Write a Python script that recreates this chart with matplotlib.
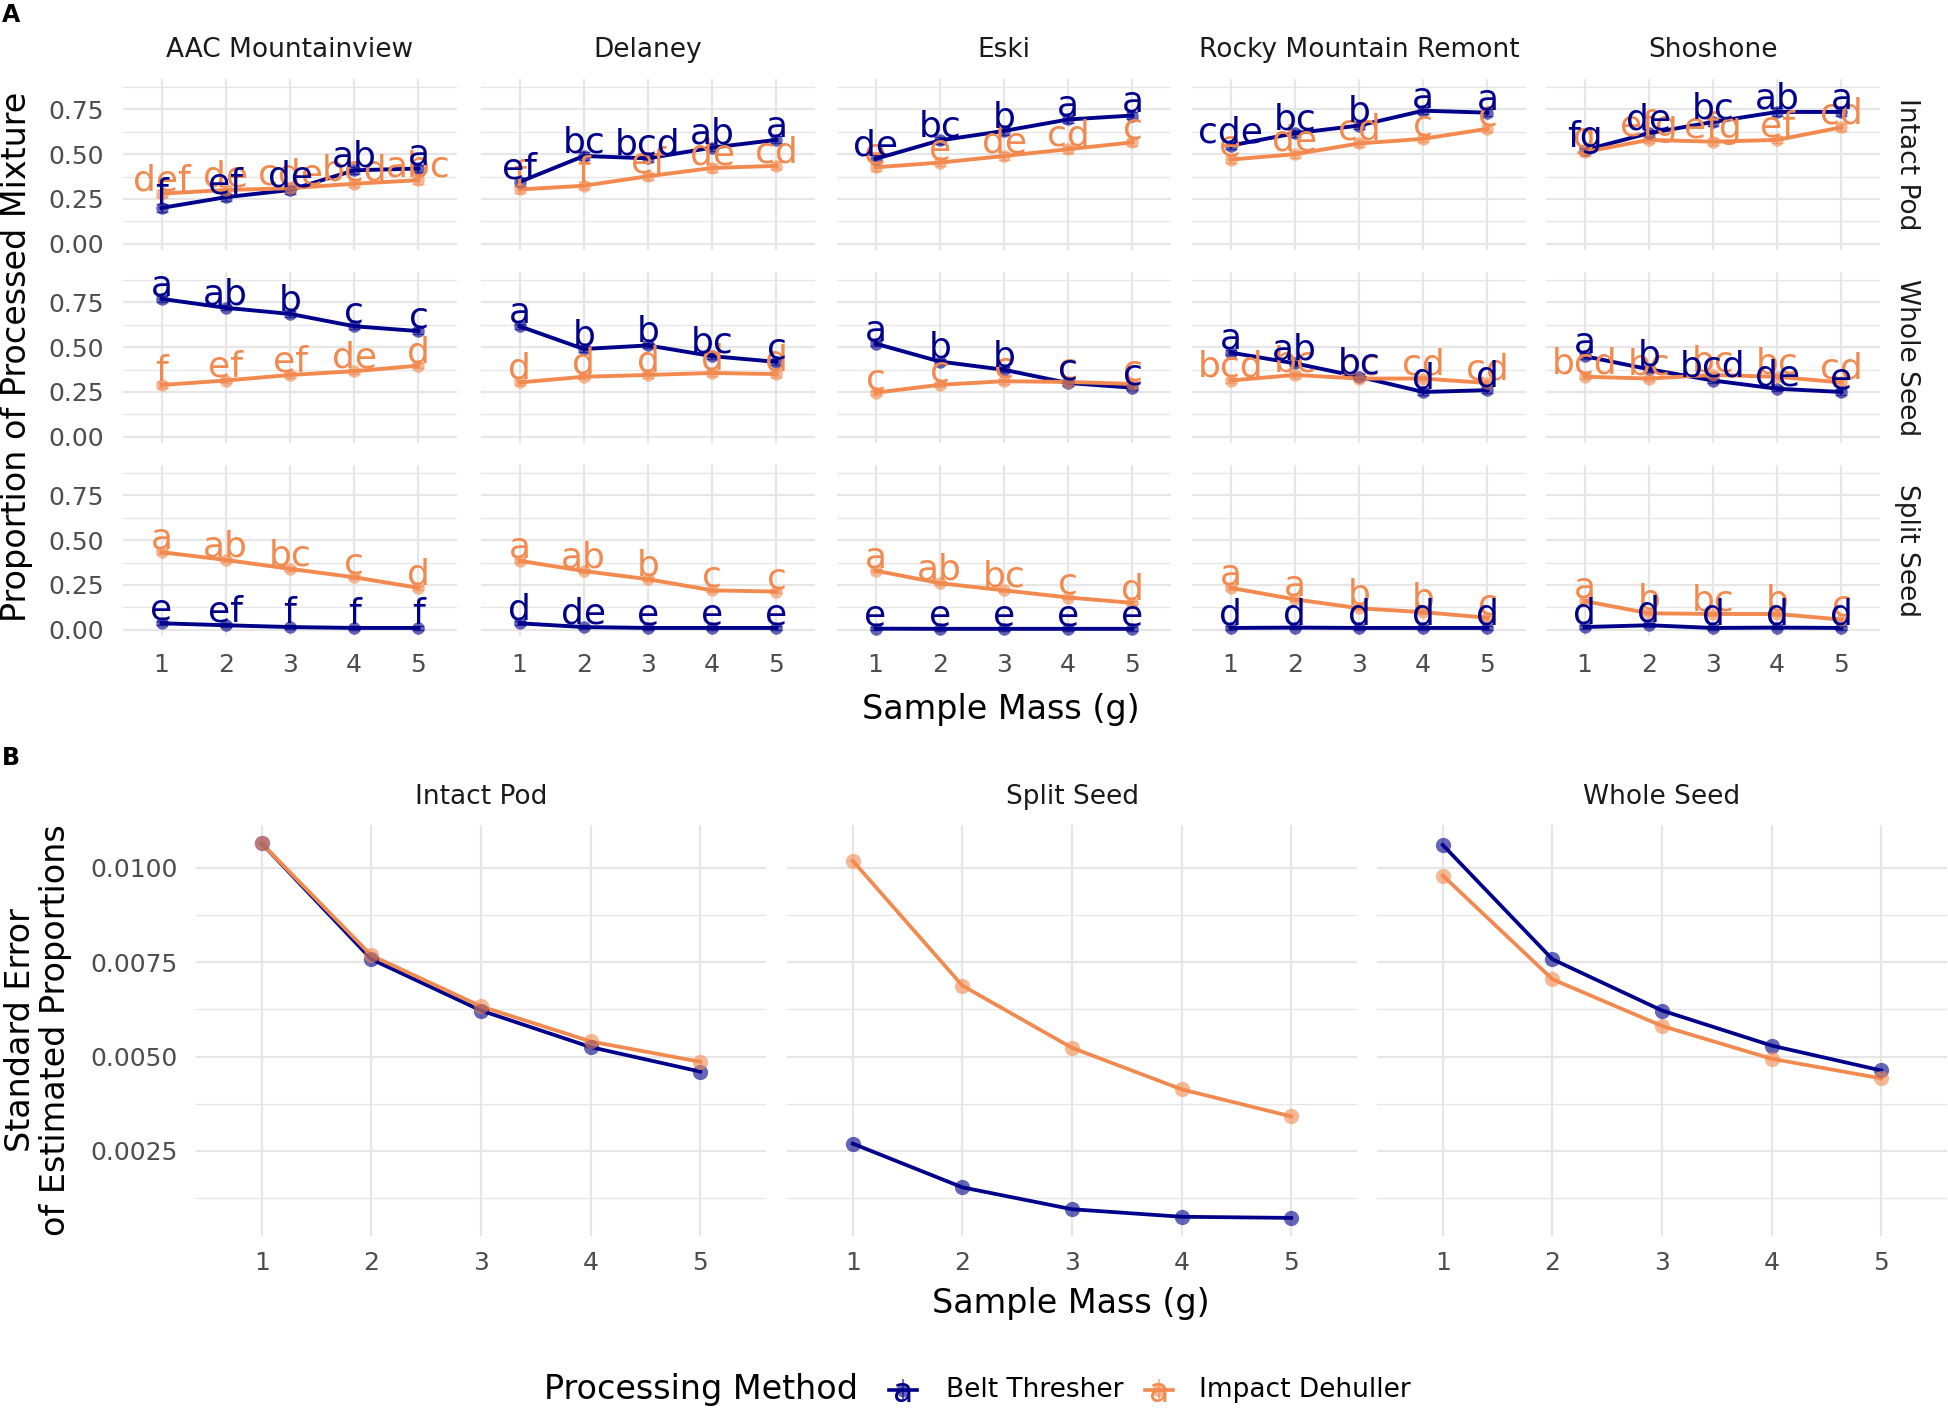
import matplotlib
matplotlib.use("Agg")
import matplotlib.pyplot as plt
from matplotlib.lines import Line2D

plt.rcParams["font.family"] = ["DejaVu Sans"]

# ---- data -------------------------------------------------------------
sample_mass = [1, 2, 3, 4, 5]
varieties = ["AAC Mountainview", "Delaney", "Eski", "Rocky Mountain Remont", "Shoshone"]
fractions = ["Intact Pod", "Whole Seed", "Split Seed"]
methods = ["Belt Thresher", "Impact Dehuller"]

# proportion of processed mixture, one list per variety
belt_intact = [[0.20, 0.26, 0.30, 0.41, 0.42],
               [0.345, 0.49, 0.477, 0.537, 0.58],
               [0.474, 0.577, 0.63, 0.694, 0.716],
               [0.548, 0.617, 0.66, 0.743, 0.732],
               [0.523, 0.617, 0.68, 0.736, 0.736]]
impact_intact = [[0.28, 0.30, 0.31, 0.335, 0.355],
                 [0.303, 0.324, 0.377, 0.423, 0.435],
                 [0.427, 0.453, 0.49, 0.528, 0.566],
                 [0.47, 0.50, 0.56, 0.586, 0.642],
                 [0.512, 0.58, 0.57, 0.58, 0.65]]
belt_whole = [[0.77, 0.72, 0.686, 0.617, 0.59],
              [0.617, 0.49, 0.51, 0.45, 0.418],
              [0.52, 0.42, 0.374, 0.30, 0.274],
              [0.47, 0.41, 0.335, 0.25, 0.26],
              [0.45, 0.377, 0.314, 0.268, 0.25]]
impact_whole = [[0.289, 0.314, 0.345, 0.366, 0.397],
                [0.303, 0.335, 0.345, 0.356, 0.35],
                [0.246, 0.29, 0.31, 0.306, 0.295],
                [0.314, 0.345, 0.325, 0.325, 0.30],
                [0.335, 0.325, 0.345, 0.335, 0.303]]
belt_split = [[0.036, 0.025, 0.015, 0.01, 0.01],
              [0.036, 0.015, 0.01, 0.01, 0.01],
              [0.006, 0.005, 0.005, 0.005, 0.005],
              [0.01, 0.012, 0.01, 0.01, 0.01],
              [0.015, 0.025, 0.01, 0.012, 0.01]]
impact_split = [[0.433, 0.39, 0.34, 0.293, 0.234],
                [0.385, 0.328, 0.282, 0.22, 0.213],
                [0.33, 0.26, 0.22, 0.18, 0.15],
                [0.234, 0.17, 0.12, 0.098, 0.067],
                [0.16, 0.092, 0.088, 0.088, 0.057]]

# approximate standard errors shown as error bars (per fraction)
fraction_se = [0.02, 0.015, 0.01]

# compact letter displays
belt_intact_letters = [["f", "ef", "de", "ab", "a"],
                       ["ef", "bc", "bcd", "ab", "a"],
                       ["de", "bc", "b", "a", "a"],
                       ["cde", "bc", "b", "a", "a"],
                       ["fg", "de", "bc", "ab", "a"]]
impact_intact_letters = [["def", "de", "cde", "bcd", "abc"],
                         ["f", "f", "ef", "de", "cd"],
                         ["e", "e", "de", "cd", "c"],
                         ["e", "de", "cd", "c", "c"],
                         ["g", "efg", "efg", "ef", "cd"]]
belt_whole_letters = [["a", "ab", "b", "c", "c"],
                      ["a", "b", "b", "bc", "c"],
                      ["a", "b", "b", "c", "c"],
                      ["a", "ab", "bc", "d", "d"],
                      ["a", "b", "bcd", "de", "e"]]
impact_whole_letters = [["f", "ef", "ef", "de", "d"],
                        ["d", "d", "d", "d", "d"],
                        ["c", "c", "c", "c", "c"],
                        ["bcd", "bc", "bc", "cd", "cd"],
                        ["bcd", "bc", "bc", "bc", "cd"]]
belt_split_letters = [["e", "ef", "f", "f", "f"],
                      ["d", "de", "e", "e", "e"],
                      ["e", "e", "e", "e", "e"],
                      ["d", "d", "d", "d", "d"],
                      ["d", "d", "d", "d", "d"]]
impact_split_letters = [["a", "ab", "bc", "c", "d"],
                        ["a", "ab", "b", "c", "c"],
                        ["a", "ab", "bc", "c", "d"],
                        ["a", "a", "b", "b", "c"],
                        ["a", "b", "bc", "b", "c"]]

# panel B: standard error of estimated proportions
se_fractions = ["Intact Pod", "Split Seed", "Whole Seed"]
se_belt = [[0.01065, 0.00758, 0.00622, 0.00525, 0.0046],
           [0.00269, 0.00153, 0.00095, 0.00075, 0.00072],
           [0.01061, 0.00758, 0.00622, 0.00529, 0.00463]]
se_impact = [[0.01065, 0.00768, 0.00633, 0.0054, 0.00486],
             [0.01019, 0.00688, 0.00523, 0.00413, 0.00341],
             [0.0098, 0.00705, 0.00581, 0.00494, 0.00442]]

top_values = [(belt_intact, impact_intact), (belt_whole, impact_whole), (belt_split, impact_split)]
top_letters = [(belt_intact_letters, impact_intact_letters),
               (belt_whole_letters, impact_whole_letters),
               (belt_split_letters, impact_split_letters)]

# ---- style ------------------------------------------------------------
W, H = 1949, 1410
NAVY = "#00008B"
ORANGE = "#F28A4F"
colors = [NAVY, ORANGE]
GRID = "#E6E6E6"
TICK_COLOR = "#4D4D4D"

fig = plt.figure(figsize=(W / 100, H / 100), dpi=100)


def rect(left, top, width, height):
    return [left / W, 1 - (top + height) / H, width / W, height / H]


def ftext(x, y, s, **kw):
    return fig.text(x / W, 1 - y / H, s, **kw)


def style(ax, ylim, major, minor, show_x, show_y, ypad, xpad):
    ax.set_xlim(0.4, 5.6)
    ax.set_ylim(*ylim)
    for sp in ax.spines.values():
        sp.set_visible(False)
    ax.set_xticks(sample_mass)
    ax.set_yticks(major)
    ax.set_yticks(minor, minor=True)
    ax.grid(which="major", color=GRID, linewidth=1.6)
    ax.grid(which="minor", axis="y", color=GRID, linewidth=0.9)
    ax.set_axisbelow(True)
    ax.tick_params(which="both", length=0, labelsize=18, labelcolor=TICK_COLOR)
    ax.tick_params(axis="y", pad=ypad)
    ax.tick_params(axis="x", pad=xpad)
    if not show_x:
        ax.tick_params(axis="x", labelbottom=False)
    if not show_y:
        ax.tick_params(axis="y", labelleft=False)


# ---- panel A ----------------------------------------------------------
col_left = [123, 481, 837, 1192, 1546]
row_top = [79, 272, 465]
pw, ph = 334, 171

for r, frac in enumerate(fractions):
    for c, variety in enumerate(varieties):
        ax = fig.add_axes(rect(col_left[c], row_top[r], pw, ph))
        style(ax, (-0.035, 0.92), [0, 0.25, 0.5, 0.75], [0.125, 0.375, 0.625, 0.875],
              r == 2, c == 0, 14, 12)
        ax.yaxis.set_major_formatter(plt.FuncFormatter(lambda v, p: f"{v:.2f}"))
        for m in range(2):
            vals = top_values[r][m][c]
            ax.plot(sample_mass, vals, color=colors[m], linewidth=2.8, zorder=2 + m * 0.1)
            ax.errorbar(sample_mass, vals, yerr=fraction_se[r], fmt="none", ecolor=colors[m],
                        elinewidth=1.4, capsize=4, alpha=0.6, zorder=3)
            ax.plot(sample_mass, vals, "o", color=colors[m], markersize=9, alpha=0.6,
                    markeredgewidth=0, zorder=3.5 + m * 0.1)
        for m in (1, 0):
            vals = top_values[r][m][c]
            labs = top_letters[r][m][c]
            for x, v, lab in zip(sample_mass, vals, labs):
                ax.text(x, v + 0.02, lab, color=colors[m], fontsize=26, ha="center",
                        va="baseline", zorder=5 + (1 - m), clip_on=False)
        if r == 0:
            ftext(col_left[c] + pw / 2, 50, variety, fontsize=19, color="#1A1A1A",
                  ha="center", va="center")
    ftext(1907, row_top[r] + ph / 2, frac, fontsize=19, color="#1A1A1A", rotation=-90,
          ha="center", va="center")

ftext(1001, 709, "Sample Mass (g)", fontsize=24, ha="center", va="center")
ftext(17, 357, "Proportion of Processed Mixture", fontsize=24, rotation=90,
      ha="center", va="center")
ftext(2, 3, "A", fontsize=17, fontweight="bold", ha="left", va="top")

# ---- panel B ----------------------------------------------------------
b_left = [196, 787, 1377]
b_top, bw, bh = 825, 570, 411
for c, frac in enumerate(se_fractions):
    ax = fig.add_axes(rect(b_left[c], b_top, bw, bh))
    style(ax, (0.00024, 0.01114), [0.0025, 0.005, 0.0075, 0.01],
          [0.00125, 0.00375, 0.00625, 0.00875], True, c == 0, 13, 11)
    ax.yaxis.set_major_formatter(plt.FuncFormatter(lambda v, p: f"{v:.4f}"))
    for m, series in enumerate((se_belt, se_impact)):
        ax.plot(sample_mass, series[c], color=colors[m], linewidth=2.7, zorder=2 + m * 0.1)
        ax.plot(sample_mass, series[c], "o", color=colors[m], markersize=11, alpha=0.6,
                markeredgewidth=0, zorder=3 + m * 0.1)
    ftext(b_left[c] + bw / 2, 797, frac, fontsize=19, color="#1A1A1A",
          ha="center", va="center")

ftext(1071, 1303, "Sample Mass (g)", fontsize=24, ha="center", va="center")
ftext(38, 1030, "Standard Error\nof Estimated Proportions", fontsize=24, rotation=90,
      ha="center", va="center", multialignment="center", linespacing=1.05)
ftext(2, 746, "B", fontsize=17, fontweight="bold", ha="left", va="top")

# ---- legend -----------------------------------------------------------
ly = 1390
ftext(544, ly, "Processing Method", fontsize=24, ha="left", va="center")
for kx, tx, name, col in [(903, 946, methods[0], NAVY), (1159, 1199, methods[1], ORANGE)]:
    fig.add_artist(Line2D([(kx - 14) / W, (kx + 14) / W], [1 - ly / H] * 2,
                          color=col, linewidth=2.6, transform=fig.transFigure))
    fig.add_artist(Line2D([kx / W] * 2, [1 - (ly - 10) / H, 1 - (ly + 10) / H],
                          color=col, linewidth=1.4, alpha=0.6, transform=fig.transFigure))
    fig.add_artist(Line2D([kx / W], [1 - ly / H], marker="o", markersize=10, color=col,
                          alpha=0.6, markeredgewidth=0, transform=fig.transFigure))
    ftext(kx, ly + 3, "a", fontsize=24, color=col, ha="center", va="center")
    ftext(tx, ly, name, fontsize=19, ha="left", va="center")

fig.savefig("out.png", dpi=100)
